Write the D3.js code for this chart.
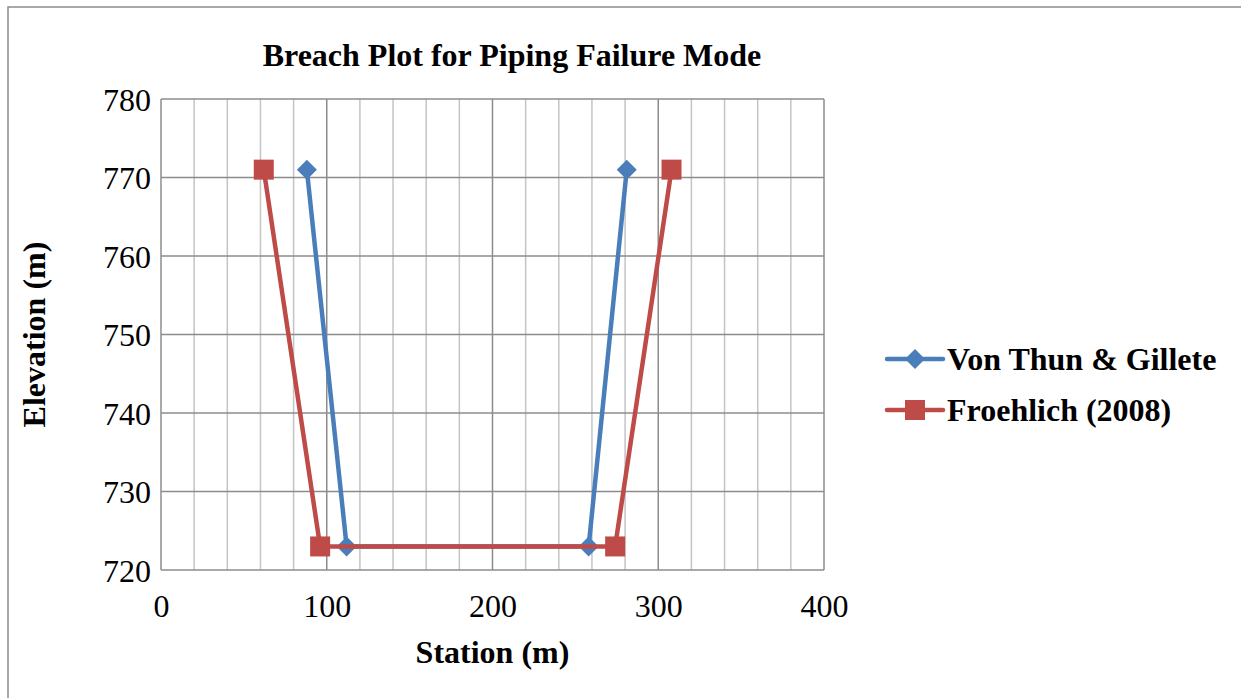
<!DOCTYPE html>
<html>
<head>
<meta charset="utf-8">
<script src="https://cdn.jsdelivr.net/npm/d3@7"></script>
<style>
  html, body { margin: 0; padding: 0; background: #fff; }
  svg { display: block; }
  text { font-family: "Liberation Serif", "Times New Roman", serif; fill: #000; }
</style>
</head>
<body>
<script>
// Breach cross-section: station (m) vs elevation (m)
const seriesNames = ["Von Thun & Gillete", "Froehlich (2008)"];
const vonThunStation = [88, 112, 258, 281];
const vonThunElevation = [771, 723, 723, 771];
const froehlichStation = [62, 96, 274, 308];
const froehlichElevation = [771, 723, 723, 771];
const xTicks = [0, 100, 200, 300, 400];
const yTicks = [720, 730, 740, 750, 760, 770, 780];
const xMinorTicks = d3.range(0, 401, 20);

const W = 1241, H = 698;
const FONT = '"Liberation Serif", "Times New Roman", serif';
const FS = "32px";
const svg = d3.select("body").append("svg").attr("width", W).attr("height", H);

// outer chart frame
svg.append("rect").attr("x", 8).attr("y", 7).attr("width", W).attr("height", H)
  .attr("fill", "none").attr("stroke", "#8c8c8c").attr("stroke-width", 1.5);

const plot = { left: 161, top: 99, right: 824, bottom: 570 };
const x = d3.scaleLinear().domain([0, 400]).range([plot.left, plot.right]);
const y = d3.scaleLinear().domain([720, 780]).range([plot.bottom, plot.top]);

// minor vertical gridlines
svg.append("g").selectAll("line").data(xMinorTicks.filter(d => d % 100 !== 0)).join("line")
  .attr("x1", d => x(d)).attr("x2", d => x(d))
  .attr("y1", plot.top).attr("y2", plot.bottom)
  .attr("stroke", "#c4c4c4").attr("stroke-width", 1.5);

// major gridlines
svg.append("g").selectAll("line").data(xTicks).join("line")
  .attr("x1", d => x(d)).attr("x2", d => x(d))
  .attr("y1", plot.top).attr("y2", plot.bottom)
  .attr("stroke", "#8c8c8c").attr("stroke-width", 1.5);
svg.append("g").selectAll("line").data(yTicks).join("line")
  .attr("x1", plot.left).attr("x2", plot.right)
  .attr("y1", d => y(d)).attr("y2", d => y(d))
  .attr("stroke", "#8c8c8c").attr("stroke-width", 1.5);

// axes (labels only)
const xAxis = svg.append("g").attr("transform", `translate(0,${plot.bottom})`)
  .call(d3.axisBottom(x).tickValues(xTicks).tickSize(0).tickPadding(47));
const yAxis = svg.append("g").attr("transform", `translate(${plot.left},0)`)
  .call(d3.axisLeft(y).tickValues(yTicks).tickSize(0).tickPadding(10));
[xAxis, yAxis].forEach(a => {
  a.attr("font-family", FONT).attr("font-size", FS);
  a.select(".domain").remove();
  a.selectAll("text").style("font-family", FONT).style("font-size", FS).attr("fill", "#000");
});
xAxis.selectAll("text").attr("dy", "0");
yAxis.selectAll("text").attr("dy", "0.35em");

// series
const series = [
  { name: seriesNames[0], xs: vonThunStation, ys: vonThunElevation, color: "#4a7ebb", shape: "diamond" },
  { name: seriesNames[1], xs: froehlichStation, ys: froehlichElevation, color: "#be4b48", shape: "square" }
];
const line = d3.line().x(d => x(d[0])).y(d => y(d[1]));

function drawMarker(g, shape, color, cx, cy) {
  if (shape === "diamond") {
    const r = 10;
    g.append("path").attr("d", `M${cx},${cy - r}L${cx + r},${cy}L${cx},${cy + r}L${cx - r},${cy}Z`)
      .attr("fill", color);
  } else {
    const s = 20;
    g.append("rect").attr("x", cx - s / 2).attr("y", cy - s / 2).attr("width", s).attr("height", s)
      .attr("fill", color);
  }
}

series.forEach(s => {
  const pts = s.xs.map((v, i) => [v, s.ys[i]]);
  const g = svg.append("g");
  g.append("path").datum(pts).attr("d", line)
    .attr("fill", "none").attr("stroke", s.color).attr("stroke-width", 4.5)
    .attr("stroke-linejoin", "round");
  pts.forEach(p => drawMarker(g, s.shape, s.color, x(p[0]), y(p[1])));
});

// title
svg.append("text").attr("x", 512).attr("y", 66).attr("text-anchor", "middle")
  .style("font-family", FONT).style("font-size", FS).style("font-weight", "bold")
  .text("Breach Plot for Piping Failure Mode");

// axis titles
svg.append("text").attr("x", x(200)).attr("y", 663).attr("text-anchor", "middle")
  .style("font-family", FONT).style("font-size", FS).style("font-weight", "bold").text("Station (m)");
svg.append("text").attr("transform", `translate(45,${(plot.top + plot.bottom) / 2}) rotate(-90)`)
  .attr("text-anchor", "middle")
  .style("font-family", FONT).style("font-size", FS).style("font-weight", "bold").text("Elevation (m)");

// legend
const legendY = [359, 410];
series.forEach((s, i) => {
  const g = svg.append("g");
  g.append("line").attr("x1", 887).attr("x2", 943).attr("y1", legendY[i]).attr("y2", legendY[i])
    .attr("stroke", s.color).attr("stroke-width", 4.5).attr("stroke-linecap", "round");
  drawMarker(g, s.shape, s.color, 915, legendY[i]);
  g.append("text").attr("x", 947).attr("y", legendY[i]).attr("dy", "0.35em")
    .style("font-family", FONT).style("font-size", FS).style("font-weight", "bold").text(s.name);
});
</script>
</body>
</html>
